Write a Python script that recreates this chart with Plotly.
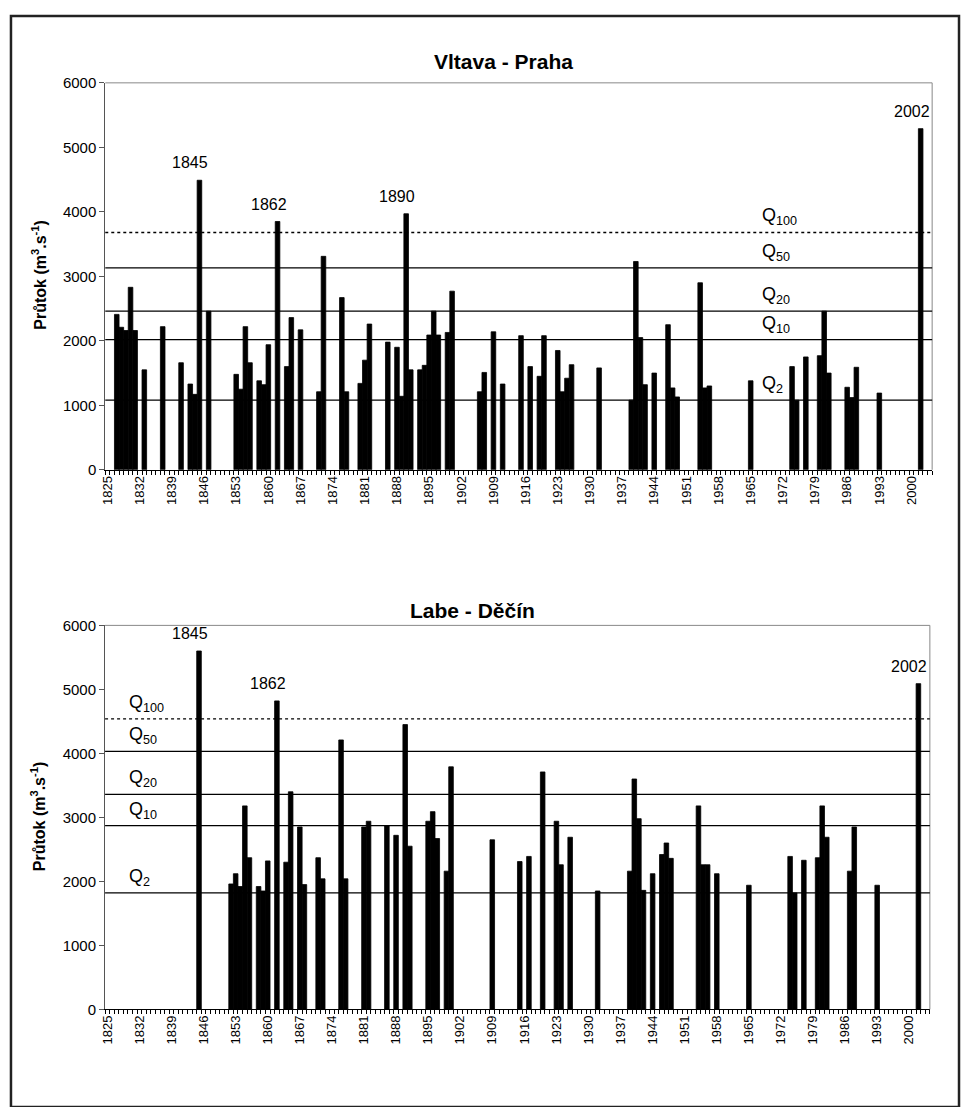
import plotly.graph_objects as go

# ---------------- data ----------------
vltava_years = [1827, 1828, 1829, 1830, 1831, 1833, 1837, 1841, 1843, 1844, 1845, 1847,
                1853, 1854, 1855, 1856, 1858, 1859, 1860, 1862, 1864, 1865, 1867, 1871,
                1872, 1876, 1877, 1880, 1881, 1882, 1886, 1888, 1889, 1890, 1891, 1893,
                1894, 1895, 1896, 1897, 1899, 1900, 1906, 1907, 1909, 1911, 1915, 1917,
                1919, 1920, 1923, 1924, 1925, 1926, 1932, 1939, 1940, 1941, 1942, 1944,
                1947, 1948, 1949, 1954, 1955, 1956, 1965, 1974, 1975, 1977, 1980, 1981,
                1982, 1986, 1987, 1988, 1993, 2002]
vltava_flow = [2410, 2210, 2160, 2830, 2160, 1550, 2220, 1660, 1330, 1170, 4490, 2460,
               1480, 1250, 2220, 1660, 1380, 1320, 1940, 3850, 1600, 2360, 2170, 1210,
               3310, 2670, 1210, 1340, 1700, 2260, 1980, 1900, 1140, 3970, 1550, 1550,
               1620, 2090, 2460, 2090, 2130, 2770, 1210, 1510, 2140, 1330, 2080, 1600,
               1450, 2080, 1850, 1210, 1420, 1630, 1580, 1080, 3230, 2050, 1320, 1500,
               2250, 1270, 1130, 2900, 1270, 1300, 1380, 1600, 1080, 1750, 1770, 2460,
               1500, 1280, 1120, 1590, 1190, 5290]

labe_years = [1845, 1852, 1853, 1854, 1855, 1856, 1858, 1859, 1860, 1862, 1864, 1865,
              1867, 1868, 1871, 1872, 1876, 1877, 1881, 1882, 1886, 1888, 1890, 1891,
              1895, 1896, 1897, 1899, 1900, 1909, 1915, 1917, 1920, 1923, 1924, 1926,
              1932, 1939, 1940, 1941, 1942, 1944, 1946, 1947, 1948, 1954, 1955, 1956,
              1958, 1965, 1974, 1975, 1977, 1980, 1981, 1982, 1987, 1988, 1993, 2002]
labe_flow = [5600, 1960, 2120, 1920, 3180, 2370, 1920, 1850, 2320, 4820, 2300, 3400,
             2850, 1950, 2370, 2040, 4210, 2040, 2850, 2940, 2870, 2720, 4450, 2550,
             2940, 3090, 2670, 2160, 3790, 2650, 2310, 2390, 3710, 2940, 2260, 2690,
             1850, 2160, 3600, 2980, 1860, 2120, 2420, 2600, 2360, 3180, 2260, 2260,
             2120, 1940, 2390, 1820, 2330, 2370, 3180, 2690, 2160, 2850, 1940, 5090]

q_names = ["Q<sub>100</sub>", "Q<sub>50</sub>", "Q<sub>20</sub>", "Q<sub>10</sub>", "Q<sub>2</sub>"]
vltava_q = [3680, 3130, 2460, 2020, 1080]
labe_q = [4540, 4030, 3360, 2870, 1820]

vltava_peaks = [1845, 1862, 1890, 2002]
labe_peaks = [1845, 1862, 2002]

tick_years = [1825, 1832, 1839, 1846, 1853, 1860, 1867, 1874, 1881, 1888, 1895, 1902,
              1909, 1916, 1923, 1930, 1937, 1944, 1951, 1958, 1965, 1972, 1979, 1986,
              1993, 2000]
tick_labels = [str(y) for y in tick_years]
y_ticks = [0, 1000, 2000, 3000, 4000, 5000, 6000]

titles = ["Vltava - Praha", "Labe - Děčín"]
ytitle = "Průtok (m<sup>3</sup>.s<sup>-1</sup>)"

# ---------------- figure ----------------
W, H = 962, 1107
FONT = "Liberation Sans, Arial, sans-serif"

def px(xp):
    return xp / W

def py(yp):
    return 1 - yp / H

fig = go.Figure()
bar_style = dict(marker_color="black", marker_line=dict(width=0.8, color="black"),
                 width=1.0, showlegend=False)
fig.add_trace(go.Bar(x=vltava_years, y=vltava_flow, xaxis="x", yaxis="y", **bar_style))
fig.add_trace(go.Bar(x=labe_years, y=labe_flow, xaxis="x2", yaxis="y2", **bar_style))

xaxis_common = dict(
    range=[1824.5, 2004.5], tickmode="array", tickvals=tick_years, ticktext=tick_labels,
    tickangle=-90, tickfont=dict(size=13, color="black", family=FONT),
    showgrid=False, zeroline=False, showline=True, linecolor="black", linewidth=1,
    ticks="", mirror=False,
    minor=dict(ticks="outside", ticklen=4, tickcolor="black", tick0=1824.5, dtick=1,
               showgrid=False),
)
yaxis_common = dict(
    range=[0, 6000], tickmode="array", tickvals=y_ticks,
    tickfont=dict(size=15, color="black", family=FONT),
    showgrid=False, zeroline=False, showline=True, linecolor="#555", linewidth=1,
    ticks="outside", ticklen=5, tickcolor="#555", mirror=False,
)

fig.update_layout(
    width=W, height=H, margin=dict(l=0, r=0, t=0, b=0),
    paper_bgcolor="white", plot_bgcolor="white",
    font=dict(family=FONT, color="black"),
    xaxis=dict(domain=[px(100.8), px(932)], anchor="y", **xaxis_common),
    yaxis=dict(domain=[py(468), py(75)], anchor="x", **yaxis_common),
    xaxis2=dict(domain=[px(100.6), px(929.7)], anchor="y2", **xaxis_common),
    yaxis2=dict(domain=[py(1016), py(626)], anchor="x2", **yaxis_common),
)

shapes = []
annotations = []

# plot-area border (top & right) in gray
for xr, yr in [("x", "y"), ("x2", "y2")]:
    shapes.append(dict(type="line", xref=f"{xr} domain", yref=f"{yr} domain",
                       x0=0, x1=1, y0=1, y1=1, line=dict(color="#888", width=1)))
    shapes.append(dict(type="line", xref=f"{xr} domain", yref=f"{yr} domain",
                       x0=1, x1=1, y0=0, y1=1, line=dict(color="#888", width=1)))

# Q lines and labels
for xr, yr, qvals, qx in [("x", "y", vltava_q, 1967.0), ("x2", "y2", labe_q, 1829.3)]:
    for i, (name, q) in enumerate(zip(q_names, qvals)):
        shapes.append(dict(type="line", xref=f"{xr} domain", yref=yr, x0=0, x1=1,
                           y0=q, y1=q, layer="above",
                           line=dict(color="black", width=1.3,
                                     dash="dot" if i == 0 else "solid")))
        annotations.append(dict(xref=xr, yref=yr, x=qx, y=q, text=name,
                                showarrow=False, xanchor="left", yanchor="bottom",
                                yshift=2, font=dict(size=18, color="black", family=FONT)))

# peak year labels
for xr, yr, yrs, vals, peaks in [("x", "y", vltava_years, vltava_flow, vltava_peaks),
                                 ("x2", "y2", labe_years, labe_flow, labe_peaks)]:
    for p in peaks:
        v = vals[yrs.index(p)]
        annotations.append(dict(xref=xr, yref=yr, x=p, y=v, text=str(p),
                                showarrow=False, xanchor="center", yanchor="bottom",
                                xshift=-9, yshift=7,
                                font=dict(size=16, color="black", family=FONT)))

# titles
annotations.append(dict(xref="paper", yref="paper", x=px(501), y=py(53), text=f"<b>{titles[0]}</b>",
                        showarrow=False, xanchor="center", yanchor="middle",
                        font=dict(size=21, color="black", family=FONT)))
annotations.append(dict(xref="paper", yref="paper", x=px(470), y=py(611), text=f"<b>{titles[1]}</b>",
                        showarrow=False, xanchor="center", yanchor="middle",
                        font=dict(size=21, color="black", family=FONT)))
# y-axis titles
for yc in [270, 820]:
    annotations.append(dict(xref="paper", yref="paper", x=px(34), y=py(yc),
                            text=f"<b>{ytitle}</b>", textangle=-90, showarrow=False,
                            xanchor="center", yanchor="middle",
                            font=dict(size=16, color="black", family=FONT)))

# outer frame
shapes.append(dict(type="rect", xref="paper", yref="paper", x0=px(6), x1=px(959),
                   y0=py(1115), y1=py(7), line=dict(color="#222", width=2.5),
                   fillcolor="rgba(0,0,0,0)", layer="above"))

fig.update_layout(shapes=shapes, annotations=annotations)
fig.write_html("out.html")
